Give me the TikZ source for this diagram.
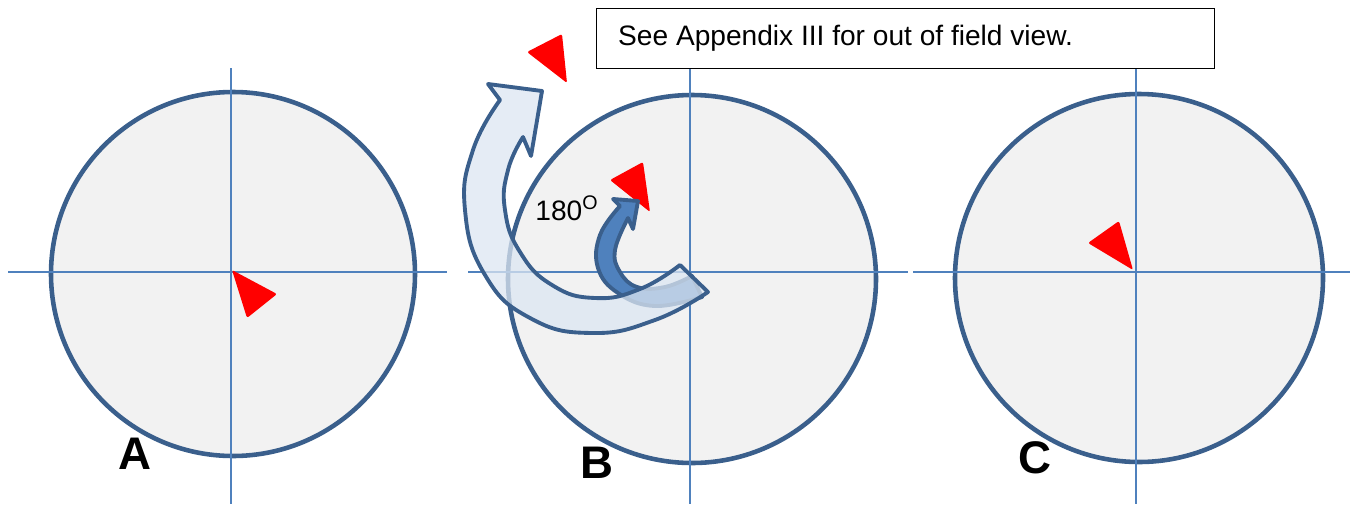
\documentclass[tikz,border=0pt]{standalone}
\usepackage{fontspec}
\setmainfont{Liberation Sans}
\usepackage{tikz}
\usetikzlibrary{positioning,calc}
\definecolor{dialfill}{HTML}{F2F2F2}
\definecolor{dialedge}{HTML}{3A5F8C}
\definecolor{axisblue}{HTML}{4F81BD}
\definecolor{arrowlight}{HTML}{DCE6F2}
\tikzset{
  dial/.style={draw=dialedge, line width=2.6pt, fill=dialfill},
  crossline/.style={draw=axisblue, line width=1.1pt},
  marker/.style={fill=red, rounded corners=1.2pt},
  bigarrow/.style={draw=dialedge, line width=2.2pt, line join=round,
    fill=arrowlight, fill opacity=0.75},
  smallarrow/.style={draw=dialedge, line width=2.2pt, line join=round, fill=axisblue},
  notebox/.style={draw, line width=0.8pt, fill=white},
  panellabel/.style={font=\fontsize{26}{28}\selectfont\bfseries},
}

\begin{document}
\begin{tikzpicture}[x=0.02cm, y=-0.02cm]
  \useasboundingbox (0,0) rectangle (1356,504);
  % Kreise
  \coordinate (cA) at (233,274);
  \coordinate (cB) at (692,279);
  \coordinate (cC) at (1139,278);
  \path[dial] (cA) circle [radius=182];
  \path[dial] (cB) circle [radius=184];
  \path[dial] (cC) circle [radius=184];
  % Achsen
  \draw[crossline] (8,272) -- (447,272);
  \draw[crossline] (231,68) -- (231,504);
  \draw[crossline] (468,272) -- (908,272);
  \draw[crossline] (690,68) -- (690,504);
  \draw[crossline] (913,272) -- (1350,272);
  \draw[crossline] (1136,68) -- (1136,504);
  % Marker
  \fill[marker] (232,270) -- (277,294) -- (247,318) -- cycle;
  \fill[marker] (1133,270) -- (1088,243) -- (1119,221) -- cycle;
  \fill[marker] (610,180) -- (643,162) -- (650,212) -- cycle;
  \fill[marker] (527,52) -- (562,34) -- (567,83) -- cycle;
  % Drehpfeile
  \path[smallarrow] (692,276)
    -- plot[smooth, tension=0.7] coordinates {(692,276) (665,287) (637,287) (620,272) (615,250) (628,218)}
    -- (633,229) -- (638,201) -- (613,199) -- (620,206)
    -- plot[smooth, tension=0.7] coordinates {(620,206) (600,235) (598,268) (618,293) (655,306) (702,297)}
    -- cycle;
  \path[bigarrow] (680,265)
    -- plot[smooth, tension=0.8] coordinates {(680,265) (640,289) (595,298) (552,285) (520,252) (505,210) (508,170) (523,137)}
    -- (531,156) -- (542,91) -- (488,84) -- (500,100)
    -- plot[smooth, tension=0.8] coordinates {(500,100) (473,150) (465,210) (485,275) (530,318) (592,333) (655,320) (708,292)}
    -- cycle;
  \node[font=\fontsize{16}{18}\selectfont] (angle) at (567,208) {180\textsuperscript{O}};
  % Hinweis
  \node[notebox, minimum width=618*0.02cm, minimum height=60*0.02cm, anchor=north west,
    inner sep=0pt] (note) at (596,8) {};
  \node[font=\fontsize{16}{18}\selectfont, anchor=west] (notetext) at ([xshift=16*0.02cm]note.west)
    {See Appendix III for out of field view.};
  % Beschriftung
  \node[panellabel] (labA) at (135,454) {A};
  \node[panellabel] (labB) at (597,463) {B};
  \node[panellabel] (labC) at (1035,458) {C};
\end{tikzpicture}
\end{document}
